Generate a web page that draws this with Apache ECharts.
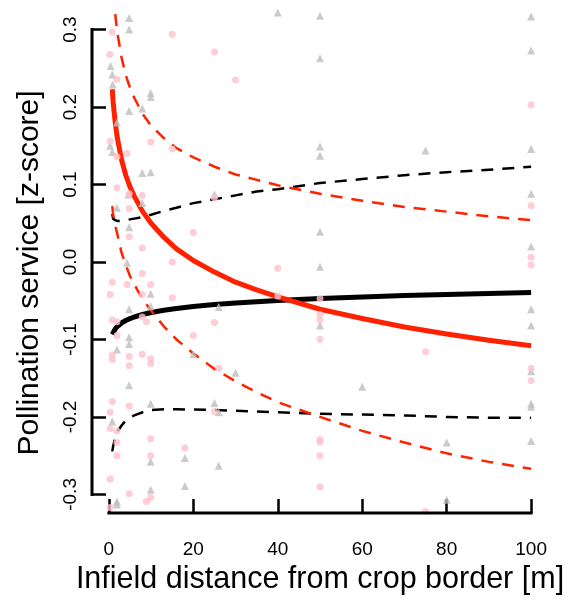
<!DOCTYPE html>
<html><head><meta charset="utf-8">
<script src="https://cdn.jsdelivr.net/npm/echarts@6/dist/echarts.min.js"></script>
<style>html,body{margin:0;padding:0;background:#fff}#c{width:573px;height:605px}</style>
</head><body><div id="c"></div>
<script>
// ---- data ----
const xTicks = [0, 20, 40, 60, 80, 100];
const yTicks = [-0.3, -0.2, -0.1, 0.0, 0.1, 0.2, 0.3];
const xName = 'Infield distance from crop border [m]';
const yName = 'Pollination service [z-score]';

// curves
const curveX     = [0.8, 1, 1.5, 2, 3, 4, 5, 6, 8, 10, 13, 16, 20, 25, 30, 35, 40, 50, 60, 70, 80, 90, 100];
const redFit     = [0.223, 0.207, 0.180, 0.160, 0.132, 0.112, 0.097, 0.085, 0.065, 0.050, 0.032, 0.017, 0.002, -0.013, -0.026, -0.036, -0.045, -0.061, -0.073, -0.084, -0.093, -0.101, -0.108];
const redUpper   = [0.374, 0.354, 0.320, 0.296, 0.264, 0.241, 0.225, 0.212, 0.191, 0.176, 0.160, 0.147, 0.135, 0.123, 0.113, 0.106, 0.099, 0.088, 0.079, 0.071, 0.065, 0.059, 0.054];
const redLower   = [0.072, 0.062, 0.047, 0.036, 0.012, -0.004, -0.018, -0.029, -0.048, -0.063, -0.083, -0.100, -0.118, -0.138, -0.154, -0.168, -0.181, -0.200, -0.218, -0.233, -0.247, -0.258, -0.267];
const blackFit   = [-0.0935, -0.091, -0.0865, -0.0832, -0.0787, -0.0755, -0.073, -0.071, -0.0677, -0.0652, -0.0623, -0.060, -0.0575, -0.055, -0.053, -0.0512, -0.0497, -0.0472, -0.0452, -0.0434, -0.0419, -0.0406, -0.0394];
const blackUpper = [0.062, 0.056, 0.054, 0.053, 0.053, 0.054, 0.055, 0.056, 0.058, 0.061, 0.066, 0.070, 0.076, 0.081, 0.086, 0.091, 0.094, 0.102, 0.107, 0.112, 0.116, 0.119, 0.123];
const blackLower = [-0.2445, -0.238, -0.2265, -0.219, -0.211, -0.2045, -0.201, -0.198, -0.194, -0.191, -0.190, -0.190, -0.1905, -0.191, -0.192, -0.193, -0.194, -0.196, -0.197, -0.198, -0.200, -0.201, -0.201];

// grey triangles
const triX = [4.8, 4.8, 0.4, 0.8, 0.9, 9.9, 9.9, 4.8, 7.9, 1.9,
              0.3, 0.8, 7.9, 9.9, 4.6, 7.9, 1.9, 4.8, 4.3,
              9.9, 4.8, 9.9, 4.8, 4.8, 1.9, 4.8,
              9.9, 0.8, 9.9, 9.9, 1.9, 1.9,
              40, 50, 50, 100, 100, 50, 50, 75, 100, 100, 50, 100, 50,
              25, 26, 20, 30, 25, 26, 18, 26, 18,
              50, 100, 100, 100, 60, 100, 100, 100, 80, 80];
const triY = [0.315, 0.300, 0.253, 0.242, 0.229, 0.218, 0.213, 0.195, 0.198, 0.180,
              0.150, 0.142, 0.115, 0.116, 0.087, 0.076, 0.070, 0.045, -0.001,
              -0.041, -0.061, -0.057, -0.097, -0.106, -0.113, -0.159,
              -0.183, -0.206, -0.258, -0.294, -0.309, -0.313,
              0.322, 0.318, 0.263, 0.317, 0.273, 0.149, 0.137, 0.144, 0.146, 0.088, 0.039, 0.020, -0.006,
              0.087, -0.058, -0.119, -0.143, -0.182, -0.194, -0.253, -0.263, -0.289,
              -0.082, -0.061, -0.082, -0.141, -0.161, -0.183, -0.187, -0.231, -0.233, -0.307];

// pink circles
const dotX = [0.8, 15, 0.2, 1.9, 0.3, 9.9, 15, 4.3, 1.9, 1.9, 4.8, 7.9, 4.8, 4.8, 7.9, 15,
              7.9, 0.8, 4.3, 9.9, 0.3, 7.9, 15, 7.9, 0.8, 1.9, 8.9, 1.9, 0.8, 4.8, 7.9, 0.8, 9.9, 9.9, 4.8,
              0.8, 4.8, 0.3, 0.3, 1.9, 1.9, 9.9, 1.9, 9.9, 0.3, 4.8, 9.9, 8.9, 0.3,
              25, 30, 25, 20, 40, 40, 25, 20, 26, 25, 18,
              100, 100, 100, 100, 50, 50, 50, 50, 75, 100, 100, 50, 50, 50, 50, 75];
const dotY = [0.297, 0.294, 0.268, 0.236, 0.156, 0.155, 0.146, 0.140, 0.136, 0.096, 0.088, 0.086, 0.069, 0.0325, 0.018, 0.000,
              -0.015, -0.026, -0.029, -0.029, -0.042, -0.042, -0.046, -0.071, -0.075, -0.077, -0.077, -0.095, -0.120, -0.122, -0.119, -0.126, -0.125, -0.131, -0.134,
              -0.180, -0.186, -0.194, -0.215, -0.218, -0.233, -0.228, -0.250, -0.250, -0.280, -0.299, -0.304, -0.309, -0.317,
              0.271, 0.235, 0.083, 0.038, -0.008, -0.044, -0.078, -0.095, -0.137, -0.193, -0.240,
              0.203, 0.073, 0.006, -0.004, -0.047, -0.068, -0.075, -0.100, -0.116, -0.137, -0.153, -0.229, -0.232, -0.250, -0.290, -0.322];

// ---- chart ----
const font = '"Liberation Sans", Arial, Helvetica, sans-serif';
const xMin = -4, xMax = 104, yMin = -0.324, yMax = 0.324;
const pair = (xs, ys) => xs.map((x, i) => [x, ys[i]]);
const lineS = (ys, color, width, dashed, z) => ({
  type: 'line', data: pair(curveX, ys), showSymbol: false, smooth: false,
  clip: true, z: z, silent: true,
  lineStyle: { color: color, width: width, type: dashed ? [12, 9] : 'solid', cap: 'butt', join: 'round' }
});

const chart = echarts.init(document.getElementById('c'), null, { renderer: 'canvas' });
chart.setOption({
  animation: false,
  backgroundColor: '#fff',
  grid: { left: 92, right: 25, top: 11, bottom: 92 },
  xAxis: {
    type: 'value', min: xMin, max: xMax, splitLine: { show: false },
    axisLine: { show: false, onZero: false },
    axisTick: { show: true, inside: true, length: 14, customValues: xTicks, lineStyle: { color: '#000', width: 2.5 } },
    axisLabel: { customValues: xTicks, margin: 27, fontSize: 19, color: '#000', fontFamily: font },
    name: xName, nameLocation: 'middle', nameGap: 51,
    nameTextStyle: { fontSize: 30.5, color: '#000', fontFamily: font }
  },
  yAxis: {
    type: 'value', min: yMin, max: yMax, splitLine: { show: false },
    axisLine: { show: false, onZero: false },
    axisTick: { show: true, inside: true, length: 14, customValues: yTicks, lineStyle: { color: '#000', width: 2.5 } },
    axisLabel: { customValues: yTicks, rotate: 90, margin: 12, fontSize: 19, color: '#000', fontFamily: font,
                 formatter: v => (Math.abs(v) < 1e-9 ? 0 : v).toFixed(1) },
    name: yName, nameLocation: 'middle', nameGap: 47,
    nameTextStyle: { fontSize: 30, color: '#000', fontFamily: font, padding: [0, 22, 0, 0] }
  },
  series: [
    lineS(blackUpper, '#000', 2.5, true, 2),
    lineS(blackLower, '#000', 2.5, true, 2),
    lineS(blackFit, '#000', 5, false, 3),
    lineS(redUpper, '#ff2200', 2.5, true, 4),
    lineS(redLower, '#ff2200', 2.5, true, 4),
    lineS(redFit, '#ff2200', 5, false, 5),
    { type: 'scatter', data: pair(triX, triY), symbol: 'triangle', symbolSize: 8, z: 6, silent: true,
      itemStyle: { color: '#bebebe' } },
    { type: 'scatter', data: pair(dotX, dotY), symbol: 'circle', symbolSize: 7, z: 7, silent: true,
      itemStyle: { color: '#ffc0cb' } }
  ]
});

// axis lines spanning only the tick range (R style)
const a = chart.convertToPixel({ gridIndex: 0 }, [xTicks[0], yMin]);
const b = chart.convertToPixel({ gridIndex: 0 }, [xTicks[xTicks.length - 1], yMin]);
const c = chart.convertToPixel({ gridIndex: 0 }, [xMin, yTicks[0]]);
const d = chart.convertToPixel({ gridIndex: 0 }, [xMin, yTicks[yTicks.length - 1]]);
chart.setOption({
  graphic: [
    { type: 'line', shape: { x1: a[0], y1: a[1], x2: b[0], y2: b[1] }, style: { stroke: '#000', lineWidth: 3, lineCap: 'square' }, z: 10 },
    { type: 'line', shape: { x1: c[0], y1: c[1], x2: d[0], y2: d[1] }, style: { stroke: '#000', lineWidth: 3, lineCap: 'square' }, z: 10 }
  ]
});
</script></body></html>
